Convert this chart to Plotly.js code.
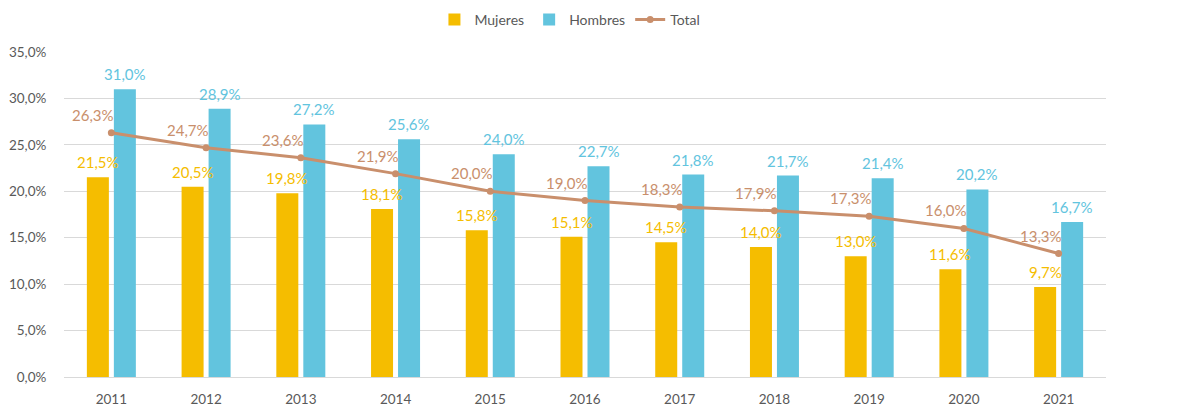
<!DOCTYPE html>
<html><head><meta charset="utf-8">
<script src="https://cdn.plot.ly/plotly-3.0.1.min.js"></script>
<style>html,body{margin:0;padding:0;background:#fff;}#chart{width:1180px;height:416px;}</style>
</head><body><div id="chart"></div>
<script>
const years = ["2011","2012","2013","2014","2015","2016","2017","2018","2019","2020","2021"];
const mujeres = [21.5,20.5,19.8,18.1,15.8,15.1,14.5,14.0,13.0,11.6,9.7];
const hombres = [31.0,28.9,27.2,25.6,24.0,22.7,21.8,21.7,21.4,20.2,16.7];
const total = [26.3,24.7,23.6,21.9,20.0,19.0,18.3,17.9,17.3,16.0,13.3];
const fmt = v => v.toFixed(1).replace('.', ',') + '%';
const cM = '#f5bd00', cH = '#62c4de', cT = '#c98f6c';
const FONT = 'Lato, "Open Sans", sans-serif';
const traces = [
  {type:'bar', name:'Mujeres', x:years, y:mujeres, marker:{color:cM}, hoverinfo:'skip'},
  {type:'bar', name:'Hombres', x:years, y:hombres, marker:{color:cH}, hoverinfo:'skip'},
  {type:'scatter', mode:'lines+markers', name:'Total', x:years, y:total,
   line:{color:cT, width:3}, marker:{color:cT, size:7}, hoverinfo:'skip'}
];
const annotations = [];
function addLabels(vals, color, xs, ys){
  vals.forEach((v,i)=>annotations.push({x:i, y:v, xref:'x', yref:'y', text:fmt(v),
    showarrow:false, xanchor:'center', yanchor:'middle', xshift:xs, yshift:ys,
    font:{color:color, size:15, family:FONT}}));
}
addLabels(mujeres, cM, -13.5, 15);
addLabels(hombres, cH, 13.5, 15);
addLabels(total, cT, -18, 18);
const ticks = [0,5,10,15,20,25,30,35];
const layout = {
  width:1180, height:416,
  margin:{l:64, r:74, t:52, b:39, autoexpand:false},
  paper_bgcolor:'#fff', plot_bgcolor:'#fff',
  font:{family:FONT, size:13.5, color:'#595959'},
  barmode:'group', bargap:0.43, bargroupgap:0.185,
  showlegend:true,
  legend:{orientation:'h', x:0.483, xanchor:'center', xref:'container',
          y:0.952, yanchor:'middle', yref:'container',
          font:{size:14, color:'#595959', family:FONT}, itemwidth:30, traceorder:'normal'},
  xaxis:{type:'category', range:[-0.5, 10.5], autorange:false, automargin:false,
         showgrid:false, zeroline:false, showline:false,
         ticks:'outside', ticklen:10, tickcolor:'rgba(0,0,0,0)',
         tickfont:{size:13.5, color:'#595959'}},
  yaxis:{range:[0,35], automargin:false, showgrid:true, gridcolor:'#d9d9d9', gridwidth:1,
         zeroline:true, zerolinecolor:'#d9d9d9', zerolinewidth:1,
         ticks:'outside', ticklen:14, tickcolor:'rgba(0,0,0,0)',
         tickfont:{size:13.5, color:'#595959'},
         tickvals:ticks, ticktext:ticks.map(fmt)},
  annotations:annotations,
  hovermode:false
};
Plotly.newPlot('chart', traces, layout, {displayModeBar:false, staticPlot:true});
</script></body></html>
